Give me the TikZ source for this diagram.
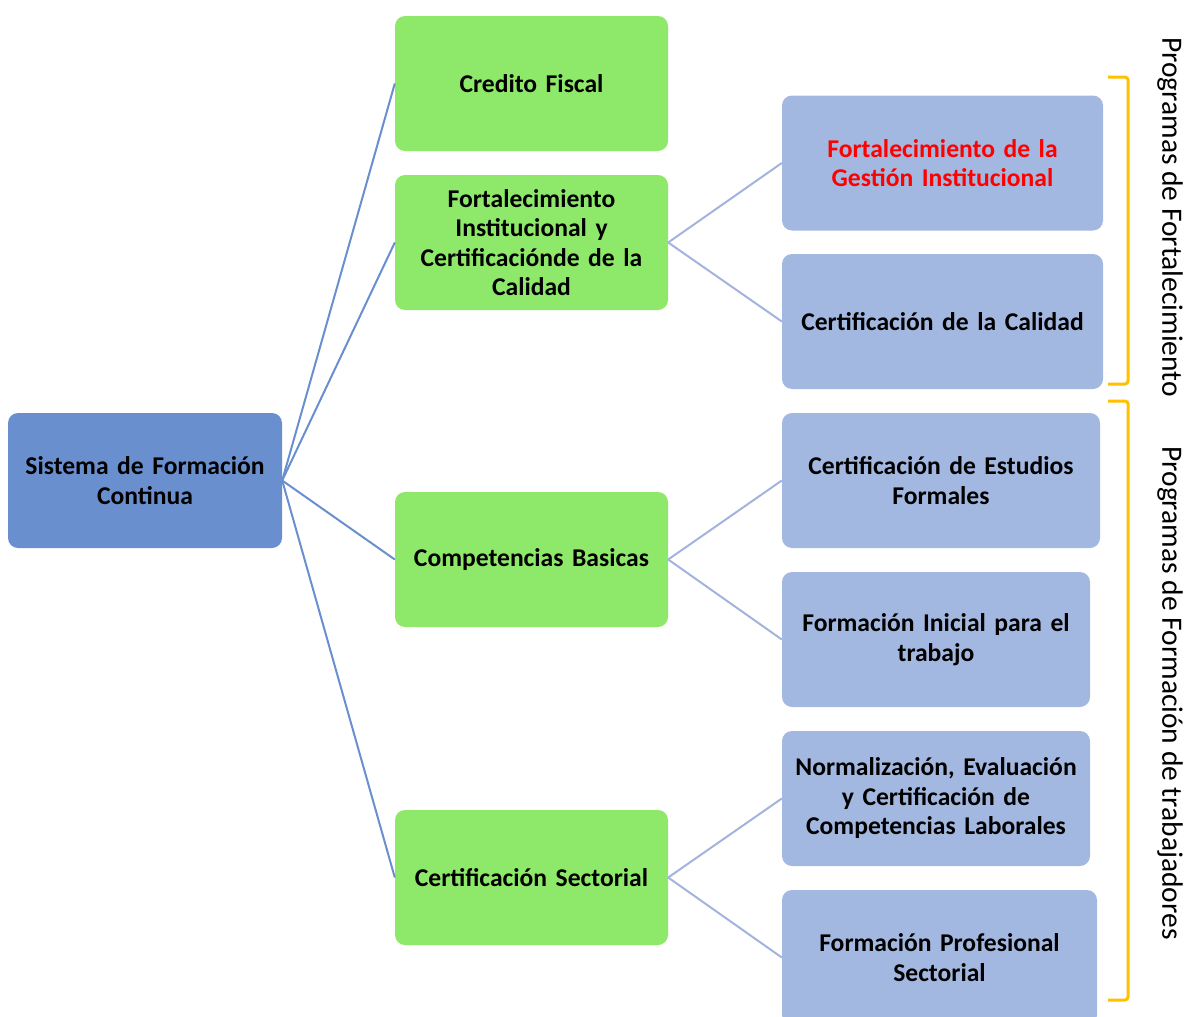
\documentclass[tikz,border=0pt]{standalone}
\usepackage{fontspec}
\setmainfont{Carlito}
\definecolor{rootblue}{HTML}{6A8FCF}
\definecolor{leafblue}{HTML}{A3B8E0}
\definecolor{greenbox}{HTML}{8EE86A}
\definecolor{linkblue}{HTML}{6A8FCF}
\definecolor{linklight}{HTML}{A2B4DE}
\definecolor{bracketor}{HTML}{FFC000}
\begin{document}
\begin{tikzpicture}[x=1pt,y=-1pt,
  box/.style={rectangle,rounded corners=10pt,inner sep=0pt,minimum height=135pt,align=center,
     font=\fontsize{25.6}{29.5}\selectfont\bfseries},
  rootbox/.style={box,fill=rootblue,minimum width=274pt,text width=270pt},
  greenb/.style={box,fill=greenbox,minimum width=273pt,text width=270pt},
  leafb/.style={box,fill=leafblue},
  link1/.style={draw=linkblue,line width=2pt},
  link2/.style={draw=linklight,line width=2pt},
  bracket/.style={draw=bracketor,line width=3pt,rounded corners=3pt},
  sidelabel/.style={rotate=-90,font=\fontsize{29.5}{32}\selectfont,inner sep=0pt}]
\useasboundingbox (0,0) rectangle (1187,1017);
% root
\node[rootbox] (root) at (145,480.5) {Sistema de Formación\\Continua};
% green level
\node[greenb] (cf) at (531.5,83.5) {Credito Fiscal};
\node[greenb] (fi) at (531.5,242.5) {Fortalecimiento\\Institucional y\\Certificaciónde de la\\Calidad};
\node[greenb] (cb) at (531.5,559.5) {Competencias Basicas};
\node[greenb] (cs) at (531.5,877.5) {Certificación Sectorial};
% leaves
\node[leafb,minimum width=321pt,text width=318pt,text=red] (fg) at (942.5,163) {Fortalecimiento de la\\Gestión Institucional};
\node[leafb,minimum width=321pt,text width=318pt] (cc) at (942.5,321.5) {Certificación de la Calidad};
\node[leafb,minimum width=318pt,text width=316pt] (ce) at (941,480.5) {Certificación de Estudios\\Formales};
\node[leafb,minimum width=308pt,text width=306pt] (fit) at (936,639.5) {Formación Inicial para el\\trabajo};
\node[leafb,minimum width=308pt,text width=306pt] (ne) at (936,798.5) {Normalización, Evaluación\\y Certificación de\\Competencias Laborales};
\node[leafb,minimum width=315pt,text width=313pt] (fp) at (939.5,957.5) {Formación Profesional\\Sectorial};
% connectors
\draw[link1] (root.east) -- (cf.west);
\draw[link1] (root.east) -- (fi.west);
\draw[link1] (root.east) -- (cb.west);
\draw[link1] (root.east) -- (cs.west);
\draw[link2] (fi.east) -- (fg.west);
\draw[link2] (fi.east) -- (cc.west);
\draw[link2] (cb.east) -- (ce.west);
\draw[link2] (cb.east) -- (fit.west);
\draw[link2] (cs.east) -- (ne.west);
\draw[link2] (cs.east) -- (fp.west);
% brackets
\draw[bracket] (1108,77) -- (1128,77) -- (1128,384) -- (1108,384);
\draw[bracket] (1108,401) -- (1128,401) -- (1128,1000) -- (1108,1000);
% side labels
\node[sidelabel] (lab1) at (1170,217) {Programas de Fortalecimiento};
\node[sidelabel] (lab2) at (1170,693) {Programas de Formación de trabajadores};
\end{tikzpicture}
\end{document}
